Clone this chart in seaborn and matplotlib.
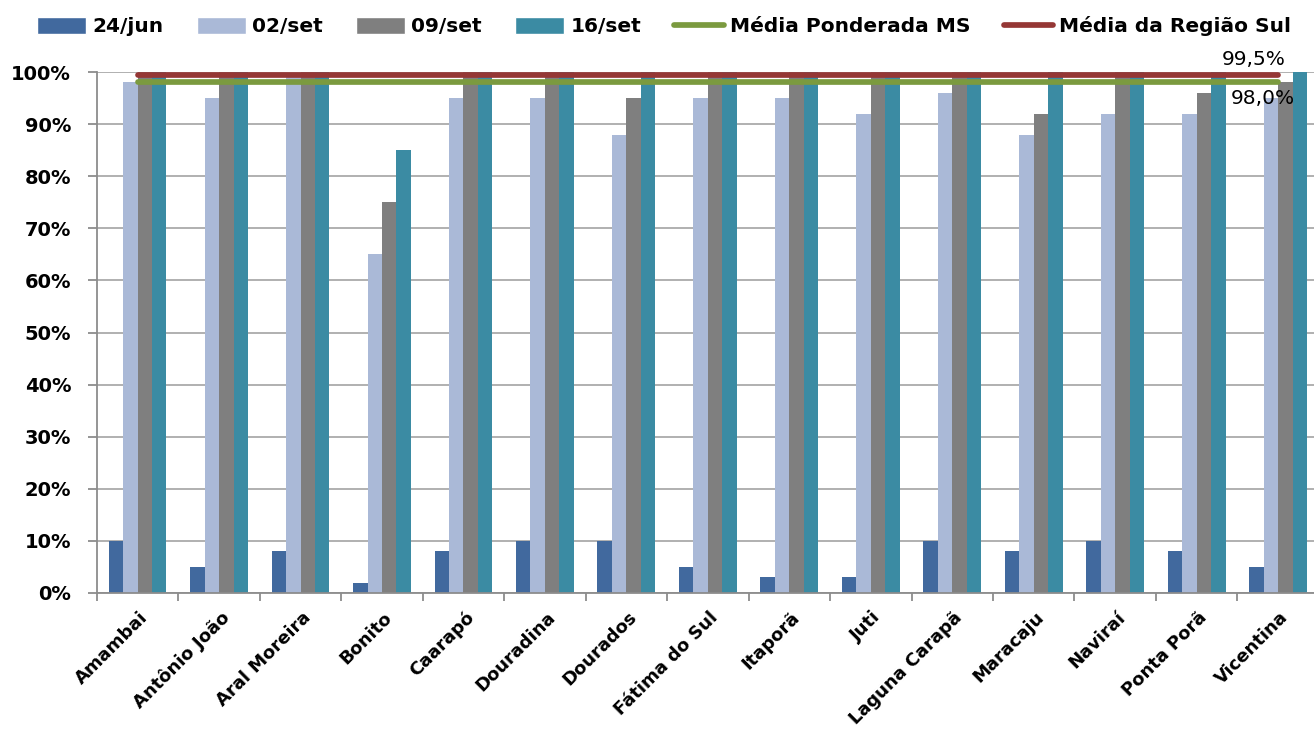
import numpy as np
import pandas as pd
import matplotlib.pyplot as plt
import seaborn as sns
from matplotlib.patches import Patch
from matplotlib.lines import Line2D
from matplotlib.transforms import ScaledTranslation

MUNICIPIOS = ['Amambai', 'Antônio João', 'Aral Moreira', 'Bonito', 'Caarapó',
              'Douradina', 'Dourados', 'Fátima do Sul', 'Itaporã', 'Juti',
              'Laguna Carapã', 'Maracaju', 'Naviraí', 'Ponta Porã', 'Vicentina']

DATAS = ['24/jun', '02/set', '09/set', '16/set']

JUN_24 = [10, 5, 8, 2, 8, 10, 10, 5, 3, 3, 10, 8, 10, 8, 5]
SET_02 = [98, 95, 99, 65, 95, 95, 88, 95, 95, 92, 96, 88, 92, 92, 95]
SET_09 = [100, 100, 100, 75, 100, 100, 95, 100, 100, 100, 100, 92, 100, 96, 98]
SET_16 = [100, 100, 100, 85, 100, 100, 100, 100, 100, 100, 100, 100, 100, 100, 100]

MEDIA_MS = 98.0
MEDIA_SUL = 99.5

CORES_BARRAS = ['#41699E', '#AAB9D7', '#7F7F7F', '#3B8BA3']
COR_MS = '#7B9A3F'
COR_SUL = '#953735'

# tabela longa para o seaborn
df = pd.DataFrame({
    'municipio': MUNICIPIOS * 4,
    'data': [d for d in DATAS for _ in MUNICIPIOS],
    'valor': JUN_24 + SET_02 + SET_09 + SET_16,
})

sns.set_style("white")
plt.rcParams['font.family'] = ['DejaVu Sans']
plt.rcParams['text.color'] = 'black'
plt.rcParams['xtick.labelcolor'] = 'black'
plt.rcParams['ytick.labelcolor'] = 'black'

fig = plt.figure(figsize=(13.14, 7.35), dpi=100)
ax = fig.add_axes([0.0737, 0.1932, 0.930, 0.7088])

sns.barplot(data=df, x='municipio', y='valor', hue='data', hue_order=DATAS,
            order=MUNICIPIOS, palette=CORES_BARRAS, width=0.71,
            linewidth=0, saturation=1, ax=ax, legend=False)

x = np.arange(len(MUNICIPIOS))
ax.plot(x, [MEDIA_MS] * len(x), color=COR_MS, lw=4.1, solid_capstyle='round', zorder=5)
ax.plot(x, [MEDIA_SUL] * len(x), color=COR_SUL, lw=4.1, solid_capstyle='round', zorder=5)

# rótulos de dados no último ponto
ax.annotate(f"{MEDIA_SUL:.1f}%".replace('.', ','), xy=(x[-1], MEDIA_SUL),
            xytext=(-24, 15), textcoords='offset pixels', ha='center', va='center',
            fontsize=14.5, color='black')
ax.annotate(f"{MEDIA_MS:.1f}%".replace('.', ','), xy=(x[-1], MEDIA_MS),
            xytext=(-15, -16), textcoords='offset pixels', ha='center', va='center',
            fontsize=14.5, color='black', zorder=6)

ax.set_ylim(0, 100)
ax.set_xlim(-0.5, len(MUNICIPIOS) - 0.5)
ax.set_yticks(range(0, 101, 10))
ax.set_yticklabels([f"{v}%" for v in range(0, 101, 10)], fontsize=14, fontweight='bold')
ax.yaxis.grid(True, color='#AAAAAA', lw=1.3)
ax.set_axisbelow(True)

ax.set_xticks(x)
ax.set_xticklabels(MUNICIPIOS, rotation=45, ha='right', rotation_mode='anchor',
                   fontsize=13, fontweight='bold')
ax.set_xticks(np.arange(-0.5, len(MUNICIPIOS)), minor=True)
ax.tick_params(axis='x', which='major', bottom=False, length=0, pad=11)
ax.tick_params(axis='x', which='minor', bottom=True, length=5.5, color='#8C8C8C',
               width=1.3, direction='out')
ax.tick_params(axis='y', which='major', left=True, length=6.5, color='#8C8C8C',
               width=1.3, direction='out', pad=12)
ax.set_xlabel('')
ax.set_ylabel('')

deslocamento = ScaledTranslation(1 / 100, 0, fig.dpi_scale_trans)
for rotulo in ax.get_xticklabels():
    rotulo.set_transform(rotulo.get_transform() + deslocamento)

for lado in ['top', 'right']:
    ax.spines[lado].set_visible(False)
for lado in ['left', 'bottom']:
    ax.spines[lado].set_color('#8C8C8C')
    ax.spines[lado].set_linewidth(1.3)

handles = [Patch(facecolor=c, label=d) for c, d in zip(CORES_BARRAS, DATAS)]
handles += [Line2D([0], [0], color=COR_MS, lw=4.1, label='Média Ponderada MS'),
            Line2D([0], [0], color=COR_SUL, lw=4.1, label='Média da Região Sul')]
fig.legend(handles=handles, loc='center left', bbox_to_anchor=(0.028, 0.964), ncol=6,
           frameon=False, handlelength=2.45, handleheight=0.95, handletextpad=0.3,
           columnspacing=1.65, borderpad=0, borderaxespad=0,
           prop={'weight': 'bold', 'size': 14.5})

plt.savefig("out.png", dpi=100)
plt.close()
